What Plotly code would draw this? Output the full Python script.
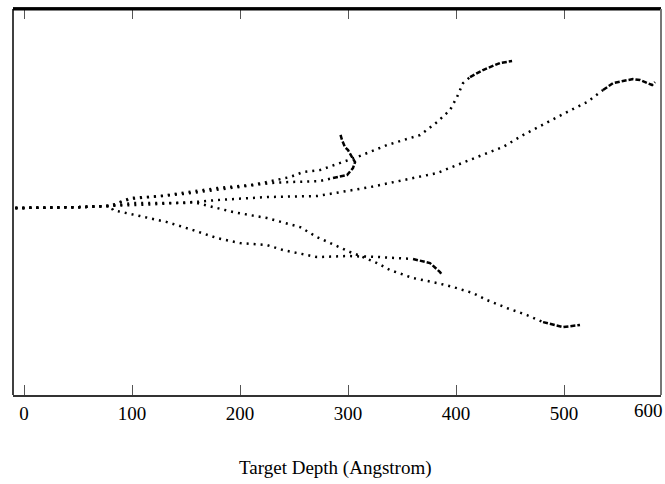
import plotly.graph_objects as go

# Data (x: target depth in Angstrom, y: lateral offset, arbitrary units)
start_x = [-8, 20, 50, 80]
start_y = [0.0, 0.3, 0.8, 2.0]

top_x = [98.1, 125.9, 147.2, 178.7, 209.3, 225.0, 246.3, 258.3, 274.1, 308.3, 336.1, 350.9, 366.7, 382.4, 394.4, 400.9, 406.5, 413.0, 425.0, 440.7, 451.9]
top_y = [9.3, 11.1, 13.9, 18.5, 21.3, 24.1, 28.7, 33.3, 35.2, 47.2, 58.3, 63.0, 67.6, 79.6, 90.7, 102.8, 115.7, 121.3, 127.8, 134.3, 136.1]

hook_x = [98.1, 147.2, 209.3, 227.8, 246.3, 274.1, 286.1, 299.1, 304.6, 306.5, 303.7, 300.0, 297.2, 294.4, 292.6]
hook_y = [8.4, 13.0, 20.4, 23.1, 24.1, 25.0, 27.8, 30.6, 37.0, 42.6, 47.2, 53.7, 56.5, 63.0, 69.4]

right_x = [100.9, 147.2, 178.7, 225.0, 271.3, 320.4, 350.9, 382.4, 419.4, 443.5, 462.0, 484.3, 502.8, 521.3, 536.1, 545.4, 554.6, 563.9, 570.4, 576.9, 581.5, 584.3]
right_y = [4.6, 4.6, 7.4, 10.2, 11.1, 19.4, 25.9, 32.4, 47.2, 56.5, 67.6, 79.6, 88.9, 98.1, 109.3, 115.7, 117.6, 119.4, 118.5, 115.7, 113.9, 116.7]

lowmid_x = [82.4, 107.4, 132.4, 156.5, 178.7, 200.0, 225.0, 239.8, 271.3, 299.1, 329.6, 360.2, 375.9, 385.2, 387.0]
lowmid_y = [-1.9, -7.4, -13.0, -20.4, -27.8, -32.4, -34.3, -38.9, -45.4, -44.4, -45.4, -47.2, -50.9, -59.3, -62.0]

lowright_x = [120.0, 156.5, 193.5, 225.0, 255.6, 271.3, 283.3, 301.9, 313.9, 326.9, 338.9, 360.2, 382.4, 397.2, 415.7, 428.7, 447.2, 465.7, 480.6, 499.1, 514.8]
lowright_y = [3.5, 5.6, -3.7, -9.3, -17.6, -26.9, -32.4, -40.7, -45.4, -50.9, -57.4, -64.8, -69.4, -73.1, -78.7, -85.2, -92.6, -99.1, -105.6, -110.2, -108.3]

tick_vals = [0, 100, 200, 300, 400, 500]
tick_text = ["0", "100", "200", "300", "400", "500"]
x_title = "Target Depth (Angstrom)"

curves = [
    (top_x, top_y, 17),
    (hook_x, hook_y, 6),
    (right_x, right_y, 14),
    (lowmid_x, lowmid_y, 11),
    (lowright_x, lowright_y, 18),
]

fig = go.Figure()
for cx, cy, solid_from in curves:
    xs = start_x + cx
    ys = start_y + cy
    k = len(start_x) + solid_from
    fig.add_trace(go.Scatter(x=xs[:k + 1], y=ys[:k + 1], mode="lines",
                             line=dict(color="black", width=2.5, dash="2px,5px"),
                             showlegend=False, hoverinfo="skip"))
    fig.add_trace(go.Scatter(x=xs[k:], y=ys[k:], mode="lines",
                             line=dict(color="black", width=2.5, dash="5px,2px"),
                             showlegend=False, hoverinfo="skip"))

serif = "Liberation Serif, Times New Roman, serif"

fig.update_layout(
    width=665, height=484,
    margin=dict(l=13, r=4, t=9, b=89),
    paper_bgcolor="white", plot_bgcolor="white",
    xaxis=dict(range=[-10.2, 589.8], tickvals=tick_vals, ticktext=tick_text,
               ticks="inside", ticklen=10, tickwidth=1.2, tickcolor="#555",
               mirror="ticks", showline=True, linecolor="#333", linewidth=1.5,
               showgrid=False, zeroline=False,
               tickfont=dict(family=serif, size=19, color="black")),
    yaxis=dict(range=[-173.1, 184.3], showticklabels=False, ticks="",
               showline=False, showgrid=False, zeroline=False),
    shapes=[
        dict(type="line", xref="paper", yref="paper", x0=0, x1=1, y0=1, y1=1,
             line=dict(color="black", width=3)),
        dict(type="line", xref="paper", yref="paper", x0=0, x1=0, y0=0, y1=1,
             line=dict(color="black", width=1.5)),
        dict(type="line", xref="paper", yref="paper", x0=1, x1=1, y0=0, y1=1,
             line=dict(color="#777", width=2)),
    ],
    annotations=[
        dict(text="600", xref="paper", yref="paper", x=0.981, y=-0.04,
             xanchor="center", yanchor="middle", showarrow=False,
             font=dict(family=serif, size=19, color="black")),
        dict(text=x_title, xref="paper", yref="paper", x=0.497, y=-0.189,
             xanchor="center", yanchor="middle", showarrow=False,
             font=dict(family=serif, size=19, color="black")),
    ],
)

fig.write_html("out.html")
